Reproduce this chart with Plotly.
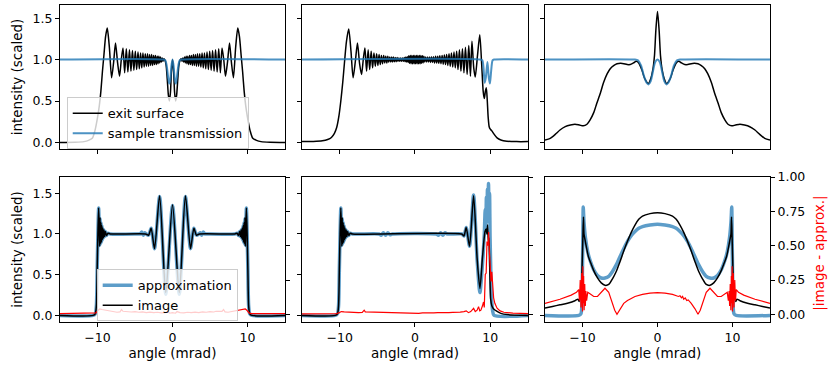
import plotly.graph_objects as go

# ---- values: (angle in mrad, value) ----

# top-left: exit surface / sample transmission
A_EXIT = [
    (-15, 0.0), (-13, 0.002), (-11.8, 0.01), (-11.2, 0.025), (-10.7, 0.05), (-10.35, 0.14),
    (-10.0, 0.3), (-9.75, 0.45), (-9.55, 0.62), (-9.35, 0.85), (-9.15, 1.05), (-8.92, 1.28),
    (-8.7, 1.38), (-8.42, 1.15), (-8.12, 0.78), (-7.85, 0.97), (-7.6, 1.2), (-7.32, 0.96),
    (-7.06, 0.8), (-6.83, 1.0), (-6.6, 1.14), (-6.38, 0.84), (-6.16, 1.13), (-5.95, 0.85),
    (-5.74, 1.12), (-5.54, 0.86), (-5.34, 1.11), (-5.15, 0.87), (-4.96, 1.10), (-4.78, 0.88),
    (-4.6, 1.09), (-4.43, 0.89), (-4.26, 1.08), (-4.1, 0.9), (-3.94, 1.08), (-3.78, 0.91),
    (-3.63, 1.07), (-3.48, 0.92), (-3.33, 1.07), (-3.19, 0.92), (-3.05, 1.06), (-2.91, 0.93),
    (-2.78, 1.06), (-2.65, 0.93), (-2.52, 1.05), (-2.4, 0.94), (-2.28, 1.05), (-2.16, 0.94),
    (-2.04, 1.04), (-1.93, 0.95), (-1.82, 1.04), (-1.71, 0.96), (-1.6, 1.03), (-1.49, 0.97),
    (-1.38, 1.02), (-1.27, 0.98), (-1.15, 1.01), (-1.0, 0.99), (-0.85, 0.93), (-0.7, 0.76),
    (-0.55, 0.57), (-0.42, 0.5), (-0.28, 0.6), (-0.14, 0.86), (0.0, 1.0), (0.14, 0.86),
    (0.28, 0.6), (0.42, 0.5), (0.55, 0.57), (0.7, 0.76), (0.85, 0.93), (1.0, 0.99),
    (1.15, 1.01), (1.27, 0.98), (1.38, 1.02), (1.49, 0.97), (1.6, 1.03), (1.71, 0.96),
    (1.82, 1.04), (1.93, 0.95), (2.04, 1.04), (2.16, 0.94), (2.28, 1.05), (2.4, 0.94),
    (2.52, 1.05), (2.65, 0.93), (2.78, 1.06), (2.91, 0.93), (3.05, 1.06), (3.19, 0.92),
    (3.33, 1.07), (3.48, 0.92), (3.63, 1.07), (3.78, 0.91), (3.94, 1.08), (4.1, 0.9),
    (4.26, 1.08), (4.43, 0.89), (4.6, 1.09), (4.78, 0.88), (4.96, 1.10), (5.15, 0.87),
    (5.34, 1.11), (5.54, 0.86), (5.74, 1.12), (5.95, 0.85), (6.16, 1.13), (6.38, 0.84),
    (6.6, 1.14), (6.83, 1.0), (7.06, 0.8), (7.32, 0.96), (7.6, 1.2), (7.85, 0.97),
    (8.12, 0.78), (8.42, 1.15), (8.7, 1.38), (8.92, 1.28), (9.15, 1.05), (9.35, 0.85),
    (9.55, 0.62), (9.75, 0.45), (10.0, 0.3), (10.35, 0.14), (10.7, 0.05), (11.2, 0.025),
    (11.8, 0.01), (13, 0.002), (15, 0.0),
]
A_TRANS = [
    (-15, 1.0), (-1.2, 1.0), (-0.95, 0.99), (-0.78, 0.93), (-0.6, 0.8), (-0.45, 0.71),
    (-0.3, 0.76), (-0.15, 0.92), (0.0, 1.0), (0.15, 0.92), (0.3, 0.76), (0.45, 0.71),
    (0.6, 0.8), (0.78, 0.93), (0.95, 0.99), (1.2, 1.0), (15, 1.0),
]

# top-middle
B_EXIT = [
    (-15, 0.01), (-13.5, 0.012), (-12.3, 0.02), (-11.6, 0.035), (-11.1, 0.06), (-10.7, 0.11),
    (-10.4, 0.18), (-10.1, 0.32), (-9.85, 0.5), (-9.6, 0.72), (-9.35, 0.98), (-9.1, 1.22),
    (-8.8, 1.37), (-8.5, 1.1), (-8.22, 0.78), (-7.92, 0.98), (-7.64, 1.2), (-7.36, 0.95),
    (-7.1, 0.82), (-6.87, 1.0), (-6.65, 1.14), (-6.43, 0.86), (-6.22, 1.12), (-6.02, 0.88),
    (-5.82, 1.1), (-5.63, 0.9), (-5.45, 1.08), (-5.27, 0.92), (-5.1, 1.07), (-4.93, 0.93),
    (-4.77, 1.06), (-4.61, 0.94), (-4.46, 1.05), (-4.31, 0.95), (-4.16, 1.05), (-4.02, 0.96),
    (-3.88, 1.04), (-3.74, 0.96), (-3.61, 1.04), (-3.48, 0.97), (-3.35, 1.03), (-3.22, 0.97),
    (-3.1, 1.03), (-2.98, 0.97), (-2.86, 1.03), (-2.74, 0.975), (-2.62, 1.025), (-2.5, 0.975),
    (-2.38, 1.025), (-2.26, 0.98), (-2.14, 1.02), (-2.02, 0.98), (-1.9, 1.02), (-1.78, 0.98),
    (-1.66, 1.02), (-1.54, 0.98), (-1.42, 1.025), (-1.32, 0.975), (-1.22, 1.03), (-1.12, 0.97),
    (-1.02, 1.035), (-0.92, 0.965), (-0.82, 1.045), (-0.72, 0.955), (-0.62, 1.05), (-0.52, 0.95),
    (-0.42, 1.05), (-0.32, 0.95), (-0.22, 1.05), (-0.12, 0.95), (-0.02, 1.05), (0.08, 0.95),
    (0.18, 1.05), (0.28, 0.95), (0.38, 1.05), (0.48, 0.95), (0.58, 1.05), (0.68, 0.95),
    (0.78, 1.05), (0.88, 0.955), (0.98, 1.045), (1.08, 0.96), (1.18, 1.04), (1.3, 0.97),
    (1.42, 1.03), (1.55, 0.97), (1.68, 1.03), (1.81, 0.97), (1.94, 1.03), (2.07, 0.965),
    (2.2, 1.035), (2.33, 0.965), (2.46, 1.035), (2.6, 0.96), (2.74, 1.04), (2.88, 0.96),
    (3.02, 1.04), (3.16, 0.955), (3.3, 1.045), (3.45, 0.95), (3.6, 1.05), (3.75, 0.945),
    (3.9, 1.055), (4.05, 0.94), (4.2, 1.06), (4.36, 0.93), (4.52, 1.07), (4.68, 0.92),
    (4.84, 1.08), (5.01, 0.91), (5.18, 1.09), (5.35, 0.9), (5.53, 1.1), (5.71, 0.88),
    (5.9, 1.12), (6.1, 0.86), (6.3, 1.13), (6.5, 0.84), (6.7, 1.15), (6.92, 0.82),
    (7.14, 1.17), (7.36, 0.8), (7.56, 1.22), (7.8, 0.9), (8.0, 0.79), (8.3, 1.05),
    (8.6, 1.3), (8.85, 0.95), (9.05, 0.62), (9.2, 0.53), (9.35, 0.62), (9.47, 0.66),
    (9.6, 0.5), (9.72, 0.3), (9.85, 0.19), (10.0, 0.16), (10.2, 0.14), (10.5, 0.1),
    (10.9, 0.055), (11.4, 0.03), (12.2, 0.015), (13.5, 0.01), (15, 0.01),
]
B_TRANS = [
    (-15, 1.0), (8.7, 1.0), (8.95, 0.99), (9.1, 0.9), (9.25, 0.72), (9.4, 0.78),
    (9.62, 0.97), (9.8, 0.78), (9.95, 0.71), (10.1, 0.85), (10.3, 0.99), (10.5, 1.0), (15, 1.0),
]

# top-right
C_EXIT = [
    (-15, 0.03), (-14.3, 0.05), (-13.6, 0.1), (-13, 0.15), (-12.3, 0.19), (-11.6, 0.21),
    (-11.0, 0.22), (-10.4, 0.21), (-9.9, 0.2), (-9.4, 0.22), (-9.0, 0.27), (-8.5, 0.36),
    (-8.1, 0.47), (-7.6, 0.6), (-7.2, 0.72), (-6.7, 0.83), (-6.3, 0.89), (-5.8, 0.93),
    (-5.4, 0.95), (-4.9, 0.955), (-4.5, 0.95), (-4.05, 0.94), (-3.64, 0.94), (-3.2, 0.96),
    (-2.84, 0.98), (-2.5, 0.96), (-2.1, 0.88), (-1.7, 0.77), (-1.2, 0.71), (-0.9, 0.77),
    (-0.62, 0.88), (-0.4, 1.05), (-0.22, 1.35), (0.0, 1.58), (0.22, 1.35), (0.4, 1.05),
    (0.62, 0.88), (0.9, 0.77), (1.2, 0.71), (1.7, 0.77), (2.1, 0.88), (2.5, 0.96),
    (2.84, 0.98), (3.2, 0.96), (3.64, 0.94), (4.05, 0.94), (4.5, 0.95), (4.9, 0.955),
    (5.4, 0.95), (5.8, 0.93), (6.3, 0.89), (6.7, 0.83), (7.2, 0.72), (7.6, 0.6),
    (8.1, 0.47), (8.5, 0.36), (9.0, 0.27), (9.4, 0.22), (9.9, 0.2), (10.4, 0.21),
    (11.0, 0.22), (11.6, 0.21), (12.3, 0.19), (13, 0.15), (13.6, 0.1), (14.3, 0.05), (15, 0.03),
]
C_TRANS = [
    (-15, 1.0), (-3.0, 1.0), (-2.6, 0.99), (-2.2, 0.93), (-1.8, 0.8), (-1.45, 0.72),
    (-1.2, 0.7), (-0.9, 0.74), (-0.6, 0.86), (-0.3, 0.97), (0.0, 1.0), (0.3, 0.97),
    (0.6, 0.86), (0.9, 0.74), (1.2, 0.7), (1.45, 0.72), (1.8, 0.8), (2.2, 0.93),
    (2.6, 0.99), (3.0, 1.0), (15, 1.0),
]

# bottom-left: approximation / image / |image - approx.|
D_APPROX = [
    (-15, 0.0), (-10.6, 0.0), (-10.3, 0.02), (-10.15, 0.12), (-10.05, 0.55), (-9.95, 1.0),
    (-9.85, 1.32), (-9.78, 1.1), (-9.72, 0.86), (-9.66, 1.19), (-9.6, 0.88), (-9.54, 1.14),
    (-9.48, 0.9), (-9.42, 1.1), (-9.36, 0.93), (-9.3, 1.07), (-9.22, 0.95), (-9.14, 1.05),
    (-9.05, 0.97), (-8.95, 1.03), (-8.8, 0.98), (-8.6, 1.01), (-8.3, 1.0), (-4.5, 1.0),
    (-4.3, 1.0), (-4.1, 1.025), (-3.9, 0.985), (-3.7, 1.015), (-3.5, 1.0), (-3.2, 0.985),
    (-2.85, 1.07), (-2.4, 0.82), (-1.72, 1.46), (-0.9, 0.26), (0.0, 1.35), (0.9, 0.26),
    (1.72, 1.46), (2.4, 0.82), (2.85, 1.07), (3.2, 0.985), (3.5, 1.0), (3.7, 1.015),
    (3.9, 0.985), (4.1, 1.025), (4.3, 1.0), (4.5, 1.0), (8.3, 1.0), (8.6, 1.01),
    (8.8, 0.98), (8.95, 1.03), (9.05, 0.97), (9.14, 1.05), (9.22, 0.95), (9.3, 1.07),
    (9.36, 0.93), (9.42, 1.1), (9.48, 0.9), (9.54, 1.14), (9.6, 0.88), (9.66, 1.19),
    (9.72, 0.86), (9.78, 1.1), (9.85, 1.32), (9.95, 1.0), (10.05, 0.55), (10.15, 0.12),
    (10.3, 0.02), (10.6, 0.0), (15, 0.0),
]
D_IMAGE = [
    (-15, 0.0), (-10.6, 0.0), (-10.3, 0.02), (-10.15, 0.12), (-10.05, 0.55), (-9.95, 1.0),
    (-9.85, 1.32), (-9.78, 1.1), (-9.72, 0.85), (-9.66, 1.2), (-9.6, 0.88), (-9.54, 1.14),
    (-9.48, 0.9), (-9.42, 1.1), (-9.36, 0.93), (-9.3, 1.07), (-9.22, 0.95), (-9.14, 1.05),
    (-9.05, 0.97), (-8.95, 1.03), (-8.8, 0.98), (-8.6, 1.01), (-8.3, 1.0), (-3.6, 1.0),
    (-3.2, 0.985), (-2.85, 1.07), (-2.4, 0.82), (-1.72, 1.47), (-0.9, 0.28), (0.0, 1.36),
    (0.9, 0.28), (1.72, 1.47), (2.4, 0.82), (2.85, 1.07), (3.2, 0.985), (3.6, 1.0),
    (8.3, 1.0), (8.6, 1.01), (8.8, 0.98), (8.95, 1.03), (9.05, 0.97), (9.14, 1.05),
    (9.22, 0.95), (9.3, 1.07), (9.36, 0.93), (9.42, 1.1), (9.48, 0.9), (9.54, 1.14),
    (9.6, 0.88), (9.66, 1.2), (9.72, 0.85), (9.78, 1.1), (9.85, 1.32), (9.95, 1.0),
    (10.05, 0.55), (10.15, 0.12), (10.3, 0.02), (10.6, 0.0), (15, 0.0),
]
D_DIFF = [
    (-15, 0.005), (-10.5, 0.005), (-10.2, 0.01), (-9.9, 0.03), (-9.7, 0.04), (-9.4, 0.035),
    (-9.0, 0.03), (-8.6, 0.025), (-8.2, 0.022), (-7.8, 0.02), (-7.4, 0.015), (-7.0, 0.018),
    (-6.8, 0.035), (-6.6, 0.022), (-6.2, 0.02), (-5.8, 0.022), (-5.5, 0.017), (-5.0, 0.02),
    (-4.5, 0.015), (-4.0, 0.018), (-3.5, 0.013), (-3.0, 0.016), (-2.5, 0.012), (-2.0, 0.015),
    (-1.5, 0.01), (-1.0, 0.012), (-0.6, 0.02), (-0.4, 0.008), (0.0, 0.012), (0.4, 0.008),
    (0.6, 0.02), (1.0, 0.012), (1.5, 0.01), (2.0, 0.015), (2.5, 0.012), (3.0, 0.016),
    (3.5, 0.013), (4.0, 0.018), (4.5, 0.015), (5.0, 0.02), (5.5, 0.017), (5.8, 0.022),
    (6.2, 0.02), (6.6, 0.022), (6.8, 0.035), (7.0, 0.018), (7.4, 0.015), (7.8, 0.02),
    (8.2, 0.022), (8.6, 0.025), (9.0, 0.03), (9.4, 0.035), (9.7, 0.04), (9.9, 0.03),
    (10.2, 0.01), (10.5, 0.005), (15, 0.005),
]

# bottom-middle
E_APPROX = [
    (-15, 0.0), (-10.6, 0.0), (-10.3, 0.02), (-10.15, 0.12), (-10.05, 0.55), (-9.95, 1.0),
    (-9.85, 1.32), (-9.78, 1.1), (-9.72, 0.86), (-9.66, 1.19), (-9.6, 0.88), (-9.54, 1.14),
    (-9.48, 0.9), (-9.42, 1.1), (-9.36, 0.93), (-9.3, 1.07), (-9.22, 0.95), (-9.14, 1.05),
    (-9.05, 0.97), (-8.95, 1.03), (-8.8, 0.98), (-8.6, 1.01), (-8.3, 1.0), (-4.8, 1.0),
    (-4.5, 0.985), (-4.2, 1.015), (-3.9, 0.985), (-3.6, 1.015), (-3.3, 0.99), (-3.0, 1.0),
    (2.8, 1.0), (3.1, 0.985), (3.4, 1.015), (3.7, 0.985), (4.0, 1.015), (4.3, 1.0),
    (6.2, 1.0), (6.5, 0.975), (6.8, 1.08), (7.24, 0.85), (7.78, 1.48), (8.25, 0.68),
    (8.62, 0.28), (8.95, 0.62), (9.2, 1.0), (9.32, 1.3), (9.4, 1.05), (9.48, 1.45),
    (9.55, 1.15), (9.62, 1.55), (9.69, 1.2), (9.76, 1.62), (9.83, 1.25), (9.9, 1.5),
    (9.97, 0.95), (10.05, 0.6), (10.15, 0.25), (10.3, 0.06), (10.5, 0.0), (15, 0.0),
]
E_IMAGE = [
    (-15, 0.0), (-10.6, 0.0), (-10.3, 0.02), (-10.15, 0.12), (-10.05, 0.55), (-9.95, 1.0),
    (-9.85, 1.32), (-9.78, 1.1), (-9.72, 0.85), (-9.66, 1.2), (-9.6, 0.88), (-9.54, 1.14),
    (-9.48, 0.9), (-9.42, 1.1), (-9.36, 0.93), (-9.3, 1.07), (-9.22, 0.95), (-9.14, 1.05),
    (-9.05, 0.97), (-8.95, 1.03), (-8.8, 0.98), (-8.6, 1.01), (-8.3, 1.0), (6.2, 1.0),
    (6.5, 0.975), (6.8, 1.08), (7.24, 0.85), (7.78, 1.47), (8.25, 0.7), (8.62, 0.33),
    (8.95, 0.7), (9.3, 1.03), (9.45, 1.06), (9.55, 1.0), (9.64, 1.11), (9.74, 0.9),
    (9.82, 0.95), (9.92, 0.6), (10.05, 0.2), (10.2, 0.12), (10.45, 0.08), (10.9, 0.05),
    (11.4, 0.025), (12.3, 0.01), (15, 0.0),
]
E_DIFF = [
    (-15, 0.003), (-10.5, 0.004), (-10.1, 0.01), (-9.8, 0.02), (-9.4, 0.018), (-9.0, 0.016),
    (-8.5, 0.014), (-8.0, 0.012), (-7.5, 0.012), (-7.0, 0.014), (-6.75, 0.03), (-6.6, 0.018),
    (-6.0, 0.017), (-5.5, 0.014), (-5.0, 0.016), (-4.5, 0.012), (-4.0, 0.014), (-3.5, 0.01),
    (-3.0, 0.012), (-2.5, 0.009), (-2.0, 0.011), (-1.5, 0.008), (-1.0, 0.01), (-0.5, 0.007),
    (0.0, 0.009), (0.5, 0.007), (1.0, 0.01), (1.5, 0.009), (2.0, 0.011), (2.5, 0.01),
    (3.0, 0.012), (3.5, 0.011), (4.0, 0.013), (4.5, 0.012), (5.0, 0.014), (5.5, 0.013),
    (6.0, 0.016), (6.5, 0.02), (6.8, 0.025), (7.1, 0.012), (7.4, 0.02), (7.78, 0.044),
    (8.0, 0.02), (8.25, 0.03), (8.44, 0.056), (8.6, 0.025), (8.75, 0.03), (8.95, 0.06),
    (9.1, 0.09), (9.2, 0.05), (9.33, 0.29), (9.45, 0.3), (9.56, 0.53), (9.7, 0.5),
    (9.78, 0.6), (9.88, 0.45), (10.0, 0.34), (10.1, 0.24), (10.2, 0.31), (10.3, 0.2),
    (10.44, 0.12), (10.6, 0.08), (10.9, 0.045), (11.3, 0.025), (11.8, 0.015), (13, 0.008),
    (15, 0.005),
]

# bottom-right
F_APPROX = [
    (-15, 0.0), (-10.5, 0.0), (-10.2, 0.02), (-10.05, 0.3), (-9.95, 1.0), (-9.9, 1.33),
    (-9.8, 1.15), (-9.6, 0.95), (-9.3, 0.78), (-9.0, 0.68), (-8.5, 0.56), (-8.0, 0.49),
    (-7.5, 0.46), (-7.0, 0.46), (-6.5, 0.48), (-6.0, 0.54), (-5.5, 0.62), (-5.0, 0.72),
    (-4.5, 0.82), (-4.0, 0.91), (-3.5, 0.98), (-3.0, 1.03), (-2.5, 1.07), (-2.0, 1.09),
    (-1.0, 1.11), (0.0, 1.12), (1.0, 1.11), (2.0, 1.09), (2.5, 1.07), (3.0, 1.03),
    (3.5, 0.98), (4.0, 0.91), (4.5, 0.82), (5.0, 0.72), (5.5, 0.62), (6.0, 0.54),
    (6.5, 0.48), (7.0, 0.46), (7.5, 0.46), (8.0, 0.49), (8.5, 0.56), (9.0, 0.68),
    (9.3, 0.78), (9.6, 0.95), (9.8, 1.15), (9.9, 1.33), (9.95, 1.0), (10.05, 0.3),
    (10.2, 0.02), (10.5, 0.0), (15, 0.0),
]
F_IMAGE = [
    (-15, 0.09), (-14, 0.11), (-13, 0.13), (-12, 0.15), (-11, 0.18), (-10.6, 0.2),
    (-10.45, 0.17), (-10.3, 0.23), (-10.15, 0.3), (-10.05, 0.6), (-9.95, 0.95), (-9.87, 1.21),
    (-9.8, 1.0), (-9.7, 0.95), (-9.5, 0.85), (-9.2, 0.72), (-8.8, 0.62), (-8.5, 0.55),
    (-8.0, 0.46), (-7.5, 0.4), (-7.0, 0.37), (-6.5, 0.38), (-6.0, 0.45), (-5.5, 0.54),
    (-5.0, 0.66), (-4.5, 0.79), (-4.0, 0.91), (-3.5, 1.02), (-3.0, 1.11), (-2.5, 1.18),
    (-2.0, 1.22), (-1.0, 1.25), (0.0, 1.26), (1.0, 1.25), (2.0, 1.22), (2.5, 1.18),
    (3.0, 1.11), (3.5, 1.02), (4.0, 0.91), (4.5, 0.79), (5.0, 0.66), (5.5, 0.54),
    (6.0, 0.45), (6.5, 0.38), (7.0, 0.37), (7.5, 0.4), (8.0, 0.46), (8.5, 0.55),
    (8.8, 0.62), (9.2, 0.72), (9.5, 0.85), (9.7, 0.95), (9.8, 1.0), (9.87, 1.21),
    (9.95, 0.95), (10.05, 0.6), (10.15, 0.3), (10.3, 0.23), (10.45, 0.17), (10.6, 0.2),
    (11, 0.18), (12, 0.15), (13, 0.13), (14, 0.11), (15, 0.09),
]
F_DIFF = [
    (-15, 0.08), (-13, 0.11), (-11.5, 0.14), (-10.8, 0.16), (-10.5, 0.18), (-10.4, 0.1),
    (-10.3, 0.25), (-10.2, 0.05), (-10.1, 0.3), (-10.0, 0.02), (-9.95, 0.35), (-9.9, 0.08),
    (-9.85, 0.28), (-9.78, 0.03), (-9.7, 0.22), (-9.62, 0.06), (-9.55, 0.17), (-9.45, 0.1),
    (-9.3, 0.16), (-9.0, 0.15), (-8.5, 0.13), (-8.0, 0.13), (-7.5, 0.16), (-7.0, 0.19),
    (-6.5, 0.16), (-6.0, 0.08), (-5.7, 0.03), (-5.4, 0.0), (-5.0, 0.04), (-4.5, 0.08),
    (-4.0, 0.1), (-3.5, 0.115), (-3.0, 0.13), (-2.0, 0.145), (-1.0, 0.155), (0.0, 0.158),
    (1.0, 0.155), (2.0, 0.145), (2.8, 0.13), (3.0, 0.135), (3.2, 0.12), (3.35, 0.13),
    (3.5, 0.11), (3.7, 0.12), (3.9, 0.1), (4.1, 0.105), (4.5, 0.08), (5.0, 0.04),
    (5.4, 0.0), (5.7, 0.03), (6.0, 0.08), (6.5, 0.16), (7.0, 0.19), (7.5, 0.16),
    (8.0, 0.13), (8.5, 0.13), (9.0, 0.15), (9.3, 0.16), (9.45, 0.1), (9.55, 0.17),
    (9.62, 0.06), (9.7, 0.22), (9.78, 0.03), (9.85, 0.28), (9.9, 0.08), (9.95, 0.35),
    (10.0, 0.02), (10.1, 0.3), (10.2, 0.05), (10.3, 0.25), (10.4, 0.1), (10.5, 0.18),
    (10.8, 0.16), (11.5, 0.14), (13, 0.11), (15, 0.08),
]

BLACK = "black"
BLUE = "rgba(31,119,180,0.8)"
BLUE_THICK = "rgba(31,119,180,0.72)"
RED = "#ff0000"
FONT = "DejaVu Sans"
TICK_SIZE = 12.5
LABEL_SIZE = 13.5

fig = go.Figure()


def add_line(pts, xa, ya, color, width, name=None, legend="legend", shape="spline"):
    fig.add_trace(go.Scatter(
        x=[p[0] for p in pts], y=[p[1] for p in pts],
        xaxis=xa, yaxis=ya, mode="lines",
        line=dict(color=color, width=width, shape=shape, smoothing=0.7),
        name=name, showlegend=name is not None, legend=legend, hoverinfo="skip",
    ))


# top row
add_line(A_EXIT, "x", "y", BLACK, 1.5, "exit surface")
add_line(A_TRANS, "x", "y", BLUE, 2, "sample transmission")
add_line(B_EXIT, "x2", "y2", BLACK, 1.5)
add_line(B_TRANS, "x2", "y2", BLUE, 2)
add_line(C_EXIT, "x3", "y3", BLACK, 1.5)
add_line(C_TRANS, "x3", "y3", BLUE, 2)

# bottom row
add_line(D_APPROX, "x4", "y4", BLUE_THICK, 3.5, "approximation", legend="legend2")
add_line(D_IMAGE, "x4", "y4", BLACK, 1.5, "image", legend="legend2")
add_line(D_DIFF, "x4", "y7", RED, 1.2, shape="linear")
add_line(E_APPROX, "x5", "y5", BLUE_THICK, 3.5)
add_line(E_IMAGE, "x5", "y5", BLACK, 1.5)
add_line(E_DIFF, "x5", "y8", RED, 1.2, shape="linear")
add_line(F_APPROX, "x6", "y6", BLUE_THICK, 3.5)
add_line(F_IMAGE, "x6", "y6", BLACK, 1.5)
add_line(F_DIFF, "x6", "y9", RED, 1.2, shape="linear")

# --- layout (pixel positions of the reference panels -> paper fractions) ---
COLS = [(0.0723, 0.3434), (0.3639, 0.6361), (0.6566, 0.9277)]
TOP = (0.5995, 0.9866)
BOTTOM = (0.1344, 0.5242)

axis_common = dict(showline=True, linecolor="black", linewidth=1, mirror=True,
                   ticks="outside", ticklen=4, tickwidth=1, tickcolor="black",
                   showgrid=False, zeroline=False, automargin=False,
                   tickfont=dict(size=TICK_SIZE, color="black"))

legend_style = dict(xanchor="left", yanchor="top",
                    bgcolor="rgba(255,255,255,0.8)", bordercolor="#cccccc", borderwidth=1,
                    font=dict(size=13), tracegroupgap=0)

layout = dict(
    width=830, height=372,
    margin=dict(l=0, r=0, t=0, b=0, autoexpand=False),
    paper_bgcolor="white", plot_bgcolor="white",
    font=dict(family=FONT, size=LABEL_SIZE, color="black"),
    legend=dict(legend_style, x=0.0804, y=0.7384),
    legend2=dict(legend_style, x=0.1165, y=0.276),
)

for i in range(6):
    n = i + 1
    row_top = i < 3
    col = i % 3
    xa = dict(axis_common, domain=COLS[col], anchor="y" if n == 1 else f"y{n}",
              range=[-15, 15], tickvals=[-10, 0, 10],
              showticklabels=not row_top)
    if not row_top:
        xa["title"] = dict(text="angle (mrad)", font=dict(size=LABEL_SIZE), standoff=4)
    ya = dict(axis_common, domain=TOP if row_top else BOTTOM,
              anchor="x" if n == 1 else f"x{n}",
              range=[-0.079, 1.659] if row_top else [-0.081, 1.70],
              tickvals=[0, 0.5, 1.0, 1.5], tickformat=".1f",
              showticklabels=col == 0)
    if col == 0:
        ya["title"] = dict(text="intensity (scaled)", font=dict(size=LABEL_SIZE), standoff=6)
    layout["xaxis" if n == 1 else f"xaxis{n}"] = xa
    layout["yaxis" if n == 1 else f"yaxis{n}"] = ya

# twin axes for |image - approx.|
for n, base in [(7, 4), (8, 5), (9, 6)]:
    layout[f"yaxis{n}"] = dict(
        overlaying=f"y{base}", anchor=f"x{base}", side="right",
        range=[-0.056, 1.0005], tickvals=[0, 0.25, 0.5, 0.75, 1.0], tickformat=".2f",
        ticks="outside", ticklen=4, tickwidth=1, tickcolor="black",
        showline=False, showgrid=False, zeroline=False, automargin=False,
        showticklabels=n == 9, tickfont=dict(size=TICK_SIZE, color="black"),
    )

fig.update_layout(layout)
fig.add_annotation(text="|image - approx.|", xref="paper", yref="paper",
                   x=0.988, y=0.318, xanchor="center", yanchor="middle",
                   textangle=-90, showarrow=False,
                   font=dict(size=LABEL_SIZE, color=RED))

# the page's default body margin would shift the figure by 8px
fig.write_html("out.html", config={"displayModeBar": False},
               post_script="document.body.style.margin='0';")
